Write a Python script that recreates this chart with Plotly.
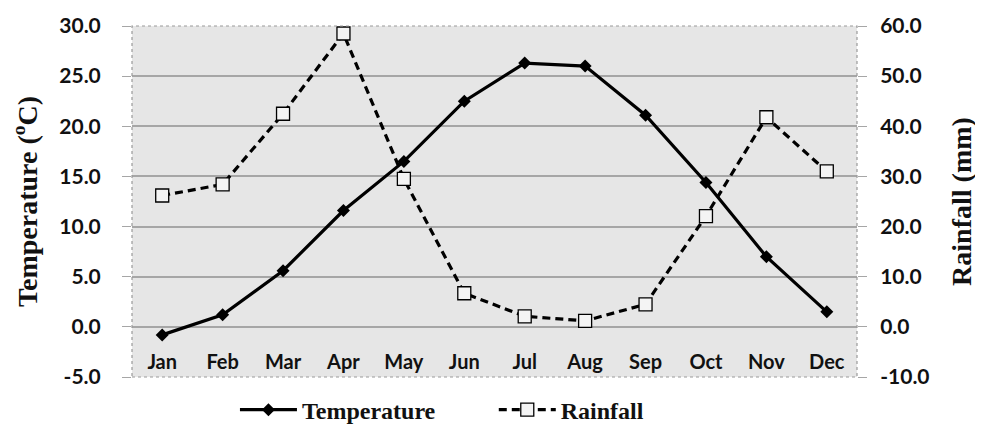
import plotly.graph_objects as go

months = ["Jan", "Feb", "Mar", "Apr", "May", "Jun", "Jul", "Aug", "Sep", "Oct", "Nov", "Dec"]
temperature = [-0.8, 1.2, 5.6, 11.6, 16.5, 22.5, 26.3, 26.0, 21.1, 14.4, 7.0, 1.5]
rainfall = [26.2, 28.4, 42.5, 58.5, 29.5, 6.7, 2.1, 1.2, 4.5, 22.1, 41.8, 31.0]

temp_ticks = [-5, 0, 5, 10, 15, 20, 25, 30]
temp_tick_labels = ["-5.0", "0.0", "5.0", "10.0", "15.0", "20.0", "25.0", "30.0"]
rain_ticks = [-10, 0, 10, 20, 30, 40, 50, 60]
rain_tick_labels = ["-10.0", "0.0", "10.0", "20.0", "30.0", "40.0", "50.0", "60.0"]

tick_font = dict(family="Lato", size=21, color="#111111", weight="bold")
title_font = dict(family="Liberation Serif", size=28, color="#111111", weight="bold")
legend_font = dict(family="Liberation Serif", size=24, color="#111111", weight="bold")

fig = go.Figure()
fig.add_trace(go.Scatter(
    x=months, y=temperature, name="Temperature", mode="lines+markers",
    line=dict(color="black", width=3.2),
    marker=dict(symbol="diamond", size=10, color="black"),
    yaxis="y", legend="legend",
))
fig.add_trace(go.Scatter(
    x=months, y=rainfall, name="Rainfall", mode="lines+markers",
    line=dict(color="black", width=3.2, dash="8px,5px"),
    marker=dict(symbol="square", size=13, color="#f4f4f4", line=dict(color="black", width=1.3)),
    yaxis="y2", legend="legend2",
))

fig.update_layout(
    width=983, height=435,
    margin=dict(l=124, r=134, t=18, b=65),
    paper_bgcolor="white",
    plot_bgcolor="#e6e6e6",
    showlegend=True,
    legend=dict(
        orientation="h", x=0.142, xanchor="left", y=-0.091, yanchor="middle",
        font=legend_font, itemwidth=57, bgcolor="rgba(0,0,0,0)",
    ),
    legend2=dict(
        orientation="h", x=0.499, xanchor="left", y=-0.091, yanchor="middle",
        font=legend_font, itemwidth=57, bgcolor="rgba(0,0,0,0)",
    ),
    xaxis=dict(
        type="category", range=[-0.5, 11.5],
        anchor="free", position=0.082, automargin=False,
        showline=False, showgrid=False, ticks="", zeroline=False,
        tickfont=dict(family="Lato", size=20, color="#111111", weight="bold"),
    ),
    yaxis=dict(
        range=[-5, 30], tickvals=temp_ticks, ticktext=temp_tick_labels, automargin=False,
        showgrid=True, gridcolor="#a6a6a6", gridwidth=1.6,
        zeroline=False, showline=False,
        ticks="outside", ticklen=9, tickcolor="#a6a6a6", tickwidth=1,
        tickfont=tick_font, ticklabelstandoff=17,
        title=dict(text="Temperature (<sup>o</sup>C)", font=title_font, standoff=20),
    ),
    yaxis2=dict(
        range=[-10, 60], tickvals=rain_ticks, ticktext=rain_tick_labels, automargin=False,
        overlaying="y", side="right",
        showgrid=False, zeroline=False, showline=False,
        ticks="outside", ticklen=9, tickcolor="#a6a6a6", tickwidth=1,
        tickfont=tick_font, ticklabelstandoff=9,
        title=dict(text="Rainfall (mm)", font=title_font, standoff=22),
    ),
    shapes=[dict(
        type="rect", xref="paper", yref="paper", x0=0, x1=1, y0=0, y1=1,
        line=dict(color="#9a9a9a", width=1.2, dash="dot"), layer="above",
    )],
)

fig.write_html("out.html")
